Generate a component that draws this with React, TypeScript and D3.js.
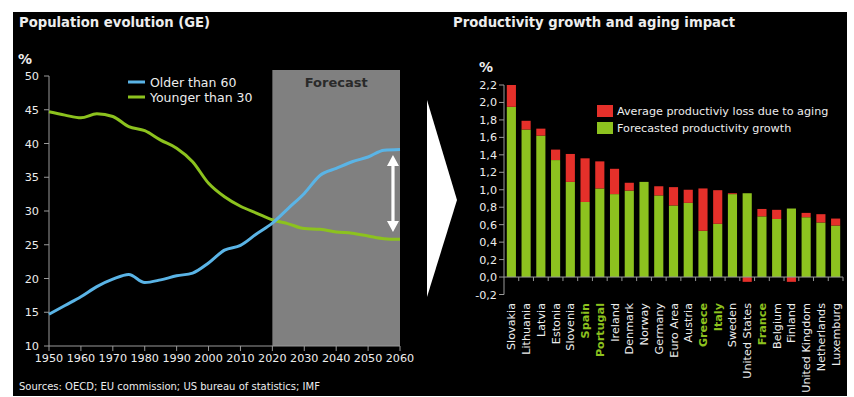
import React from "react";
import * as d3 from "d3";

const years = [1950,1955,1960,1965,1970,1975,1980,1985,1990,1995,2000,2005,2010,2015,2020,2025,2030,2035,2040,2045,2050,2055,2060];
const olderThan60 = [14.7,16.0,17.3,18.8,19.9,20.6,19.4,19.8,20.4,20.8,22.3,24.2,24.9,26.6,28.2,30.4,32.6,35.3,36.3,37.3,38.0,39.0,39.1];
const youngerThan30 = [44.7,44.2,43.8,44.4,44.0,42.5,41.9,40.5,39.3,37.3,34.1,32.1,30.7,29.7,28.7,28.1,27.4,27.3,26.9,26.7,26.3,25.9,25.8];
const yearTicks = [1950,1960,1970,1980,1990,2000,2010,2020,2030,2040,2050,2060];
const popTicks = [10,15,20,25,30,35,40,45,50];

const countries = ["Slovakia","Lithuania","Latvia","Estonia","Slovenia","Spain","Portugal","Ireland","Denmark","Norway","Germany","Euro Area","Austria","Greece","Italy","Sweden","United States","France","Belgium","Finland","United Kingdom","Netherlands","Luxemburg"];
const highlighted = ["Spain","Portugal","Greece","Italy","France"];
const forecastGrowth = [1.95,1.69,1.62,1.34,1.09,0.86,1.015,0.95,0.99,1.09,0.935,0.82,0.85,0.53,0.61,0.95,0.96,0.695,0.665,0.785,0.685,0.625,0.59];
const agingLoss = [0.25,0.10,0.08,0.12,0.32,0.50,0.31,0.29,0.09,0,0.105,0.21,0.15,0.485,0.385,0.01,-0.055,0.085,0.105,-0.055,0.05,0.095,0.08];
const prodTicks = [-0.2,0,0.2,0.4,0.6,0.8,1.0,1.2,1.4,1.6,1.8,2.0,2.2];

const FONT = "'DejaVu Sans', Verdana, sans-serif";
const GREEN = "#8DC21F";
const LINE_GREEN = "#8CC21E";
const BLUE = "#5AB4E6";
const RED = "#E5302A";
const TXT = "#EDEDED";
const AXIS = "#9a9a9a";

export default function App() {
  // Left chart
  const x = d3.scaleLinear().domain([1950, 2060]).range([49, 400]);
  const y = d3.scaleLinear().domain([10, 50]).range([346, 76]);
  const line = d3.line<[number, number]>().x(d => x(d[0])).y(d => y(d[1])).curve(d3.curveMonotoneX);
  const olderPts = years.map((yr, i) => [yr, olderThan60[i]] as [number, number]);
  const youngerPts = years.map((yr, i) => [yr, youngerThan30[i]] as [number, number]);

  const arrowX = x(2057.8);
  const aTop = y(38.3);
  const aBot = y(26.9);
  const hw = 6, hh = 11, sw = 1.6;
  const arrowPath = `M${arrowX},${aTop} L${arrowX + hw},${aTop + hh} L${arrowX + sw},${aTop + hh} L${arrowX + sw},${aBot - hh} L${arrowX + hw},${aBot - hh} L${arrowX},${aBot} L${arrowX - hw},${aBot - hh} L${arrowX - sw},${aBot - hh} L${arrowX - sw},${aTop + hh} L${arrowX - hw},${aTop + hh} Z`;

  // Right chart
  const xb = d3.scaleBand().domain(countries).range([504, 843]).paddingInner(0.38).paddingOuter(0.19);
  const yb = d3.scaleLinear().domain([-0.2, 2.2]).range([294.5, 85]);
  const step = xb.step();

  return (
    <svg width={854} height={397} style={{ position: "absolute", left: 0, top: 0 }} fontFamily={FONT}>
      <rect x={0} y={0} width={854} height={397} fill="#fff" />
      <rect x={13} y={12} width={834} height={384} fill="#000" />

      {/* Left panel */}
      <text x={19} y={27} fill={TXT} fontSize={13.2} fontWeight="bold">Population evolution (GE)</text>
      <text x={18} y={64} fill={TXT} fontSize={14} fontWeight="bold">%</text>

      <rect x={x(2020)} y={70} width={x(2060) - x(2020)} height={y(10) - 70} fill="#808080" />
      <text x={(x(2020) + x(2060)) / 2} y={87} fill="#2a2a2a" fontSize={13} fontWeight="bold" textAnchor="middle">Forecast</text>

      <line x1={x(1950)} x2={x(1950)} y1={y(50)} y2={y(10)} stroke={AXIS} strokeWidth={1} />
      {popTicks.map(t => (
        <g key={t}>
          <line x1={x(1950) - 5} x2={x(1950)} y1={y(t)} y2={y(t)} stroke={AXIS} />
          <text x={39} y={y(t) + 4} fill={TXT} fontSize={11.3} textAnchor="end">{t}</text>
        </g>
      ))}
      <line x1={x(1950)} x2={x(2060)} y1={y(10)} y2={y(10)} stroke={AXIS} />
      {yearTicks.map(t => (
        <g key={t}>
          <line x1={x(t)} x2={x(t)} y1={y(10)} y2={y(10) + 5} stroke={AXIS} />
          <text x={x(t)} y={362} fill={TXT} fontSize={11.2} textAnchor="middle">{t}</text>
        </g>
      ))}

      <path d={line(youngerPts) || ""} fill="none" stroke={LINE_GREEN} strokeWidth={3} />
      <path d={line(olderPts) || ""} fill="none" stroke={BLUE} strokeWidth={3} />
      <path d={arrowPath} fill="#fff" />

      <line x1={128} x2={145} y1={82} y2={82} stroke={BLUE} strokeWidth={3} />
      <text x={150} y={86.5} fill={TXT} fontSize={12.5}>Older than 60</text>
      <line x1={128} x2={145} y1={97} y2={97} stroke={LINE_GREEN} strokeWidth={3} />
      <text x={150} y={101.5} fill={TXT} fontSize={12.5}>Younger than 30</text>

      <text x={19} y={390} fill={TXT} fontSize={10}>Sources: OECD; EU commission; US bureau of statistics; IMF</text>

      {/* Chevron */}
      <polygon points="427,100 457,200 427,297" fill="#fff" />

      {/* Right panel */}
      <text x={453} y={27} fill={TXT} fontSize={13.2} fontWeight="bold">Productivity growth and aging impact</text>
      <text x={479} y={72} fill={TXT} fontSize={14} fontWeight="bold">%</text>

      <line x1={504} x2={504} y1={yb(2.2)} y2={yb(-0.2)} stroke={AXIS} />
      {prodTicks.map(t => (
        <g key={t}>
          <line x1={499} x2={504} y1={yb(t)} y2={yb(t)} stroke={AXIS} />
          <text x={497} y={yb(t) + 4} fill={TXT} fontSize={11.2} textAnchor="end">{t.toFixed(1).replace(".", ",")}</text>
        </g>
      ))}

      {countries.map((c, i) => {
        const g = forecastGrowth[i];
        const r = agingLoss[i];
        const bx = xb(c) as number;
        const bw = xb.bandwidth();
        return (
          <g key={c}>
            <rect x={bx} y={yb(g)} width={bw} height={yb(0) - yb(g)} fill={GREEN} />
            {r > 0 && <rect x={bx} y={yb(g + r)} width={bw} height={yb(g) - yb(g + r)} fill={RED} />}
            {r < 0 && <rect x={bx} y={yb(0)} width={bw} height={yb(r) - yb(0)} fill={RED} />}
          </g>
        );
      })}

      <line x1={504} x2={843} y1={yb(0)} y2={yb(0)} stroke={AXIS} />
      {countries.map((c, i) => (
        <line key={"t" + c} x1={504 + (i + 1) * step} x2={504 + (i + 1) * step} y1={yb(0)} y2={yb(0) + 4} stroke={AXIS} />
      ))}

      {countries.map(c => {
        const cx = (xb(c) as number) + xb.bandwidth() / 2;
        const hi = highlighted.includes(c);
        return (
          <text key={"l" + c} transform={`translate(${cx + 4},303) rotate(-90)`} fill={hi ? GREEN : TXT}
            fontSize={11.2} fontWeight={hi ? "bold" : "normal"} textAnchor="end">{c}</text>
        );
      })}

      <rect x={597} y={105} width={16} height={12} fill={RED} />
      <text x={617} y={115} fill={TXT} fontSize={11.2}>Average productiviy loss due to aging</text>
      <rect x={597} y={122} width={16} height={12} fill={GREEN} />
      <text x={617} y={132} fill={TXT} fontSize={11.2}>Forecasted productivity growth</text>
    </svg>
  );
}
